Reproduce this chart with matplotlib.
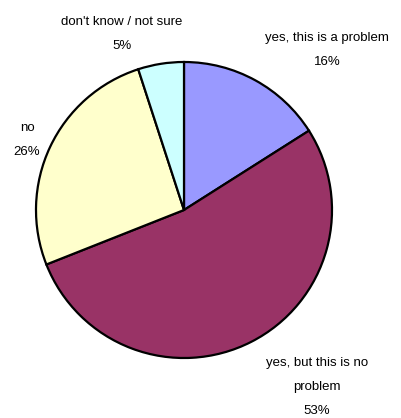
import matplotlib.pyplot as plt

labels = [["yes, this is a problem"], ["yes, but this is no", "problem"], ["no"], ["don't know / not sure"]]
values = [16, 53, 26, 5]
colors = ["#9999FF", "#993366", "#FFFFCC", "#CCFFFF"]
# label anchor: x centre and y of first line (pixels from top)
label_pos = [(327, 38), (317, 363), (27, 128), (122, 22)]
line_step = 24

W, H = 402, 418
fig = plt.figure(figsize=(W / 100, H / 100), dpi=100)
ax = fig.add_axes([0, 0, 1, 1])

ax.pie(values, colors=colors, startangle=90, counterclock=False,
       center=(184, H - 210), radius=148, frame=True,
       wedgeprops=dict(edgecolor='black', linewidth=1.6))
ax.set_xlim(0, W)
ax.set_ylim(0, H)
ax.set_aspect('equal')
ax.axis('off')

for lines, v, (x, y) in zip(labels, values, label_pos):
    for i, s in enumerate(lines + [f"{v}%"]):
        ax.text(x, H - y - i * line_step, s, ha='center', va='center',
                fontsize=9.5, family='Liberation Sans')

fig.savefig("out.png", dpi=100)
